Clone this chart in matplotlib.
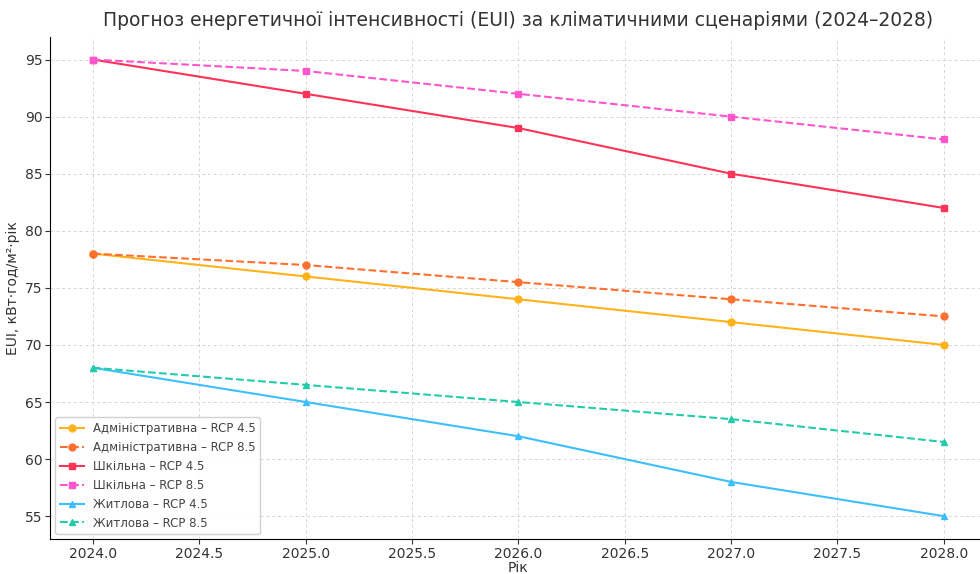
import matplotlib
matplotlib.use("Agg")
import matplotlib.pyplot as plt

years = [2024, 2025, 2026, 2027, 2028]

admin_rcp45 = [78, 76, 74, 72, 70]
admin_rcp85 = [78, 77, 75.5, 74, 72.5]
school_rcp45 = [95, 92, 89, 85, 82]
school_rcp85 = [95, 94, 92, 90, 88]
resid_rcp45 = [68, 65, 62, 58, 55]
resid_rcp85 = [68, 66.5, 65, 63.5, 61.5]

series = [
    ("Адміністративна – RCP 4.5", admin_rcp45, "#FFB31A", "-", "o"),
    ("Адміністративна – RCP 8.5", admin_rcp85, "#FF6F2E", "--", "o"),
    ("Шкільна – RCP 4.5", school_rcp45, "#FF3358", "-", "s"),
    ("Шкільна – RCP 8.5", school_rcp85, "#FF55CC", "--", "s"),
    ("Житлова – RCP 4.5", resid_rcp45, "#3DBFFF", "-", "^"),
    ("Житлова – RCP 8.5", resid_rcp85, "#22CCAA", "--", "^"),
]

fig = plt.figure(figsize=(9.8, 5.74), dpi=100)
# axes run a little past the right edge of the canvas
ax = fig.add_axes([0.0515, 0.061, 0.955, 0.875])

for label, vals, color, ls, marker in series:
    ax.plot(years, vals, linestyle=ls, marker=marker, color=color,
            markersize=5, linewidth=1.5, label=label)

ax.set_title("Прогноз енергетичної інтенсивності (EUI) за кліматичними сценаріями (2024–2028)",
             fontsize=13.5, color="#333333", pad=8)
ax.set_xlabel("Рік", fontsize=10, color="#333333", labelpad=0)
ax.set_ylabel("EUI, кВт·год/м²·рік", fontsize=10, color="#333333")
ax.tick_params(labelsize=10, colors="#333333", pad=2)
ax.grid(True, linestyle=(0, (3, 3)), color="#d5d5d5", linewidth=0.7)
for side in ("top", "right"):
    ax.spines[side].set_visible(False)
leg = ax.legend(loc="lower left", fontsize=8.5, framealpha=0.9,
                handlelength=2.0, borderaxespad=0.4)
for t in leg.get_texts():
    t.set_color("#444444")

fig.savefig("out.png", dpi=100)
